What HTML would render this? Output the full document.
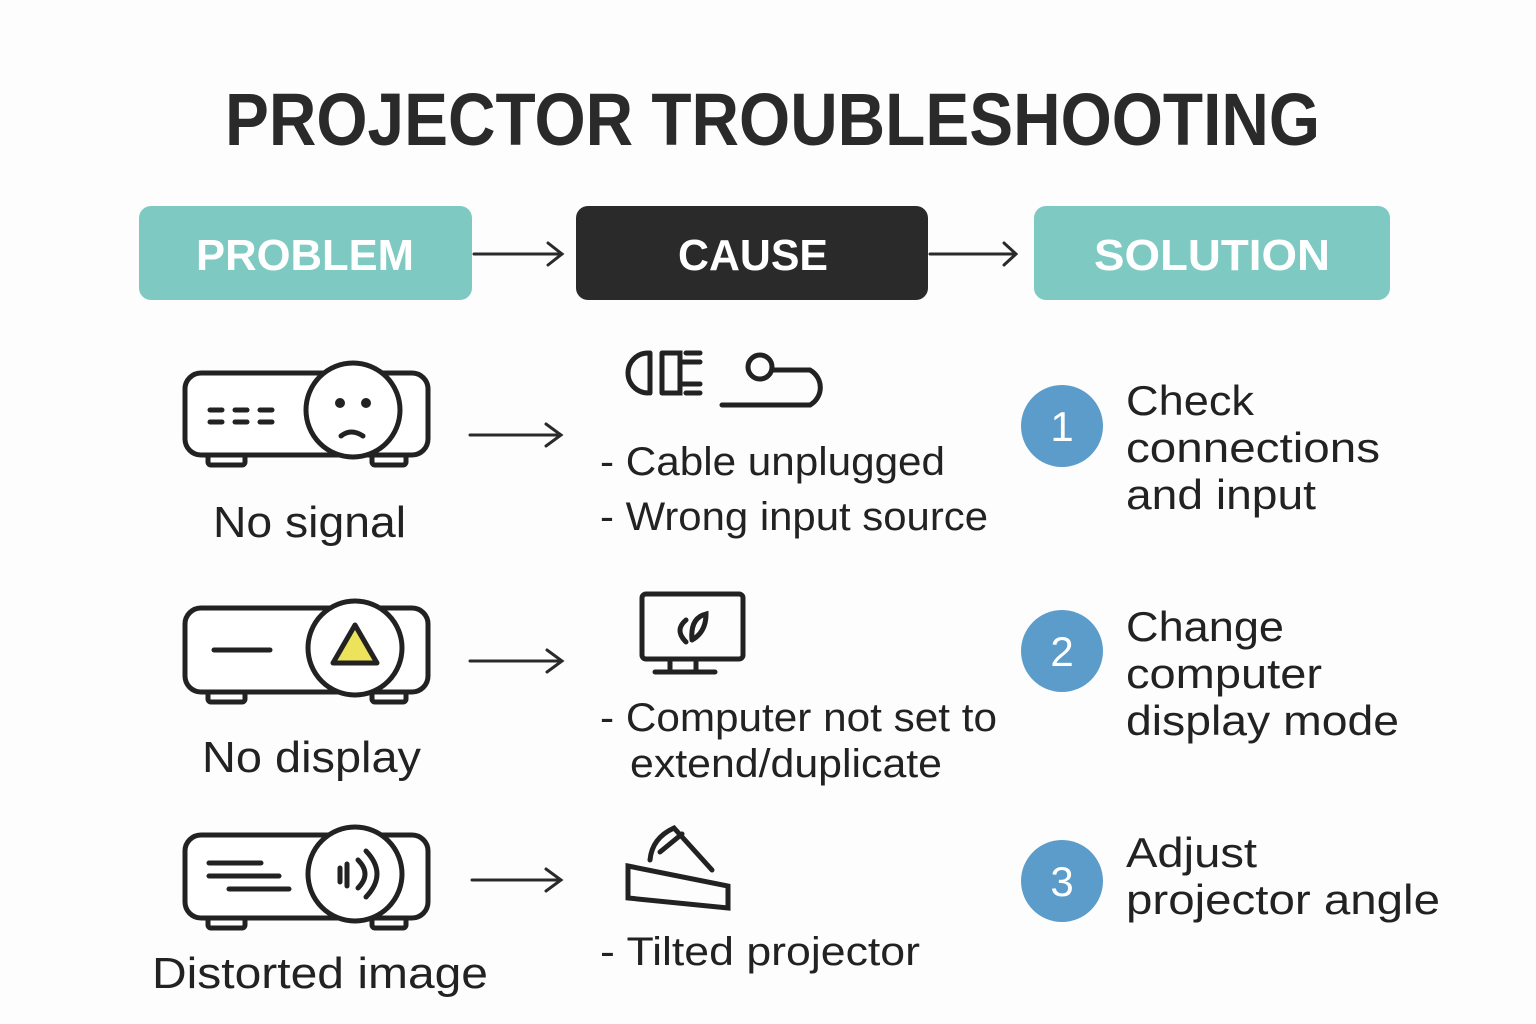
<!DOCTYPE html>
<html><head><meta charset="utf-8"><style>
html,body{margin:0;padding:0;background:#fdfdfd;}
svg{display:block;font-family:"Liberation Sans",sans-serif;}
</style></head><body>
<svg width="1536" height="1024" viewBox="0 0 1536 1024" xmlns="http://www.w3.org/2000/svg">
<rect width="1536" height="1024" fill="#fdfdfd"/>
<text x="225" y="145" font-size="74" font-weight="bold" fill="#2a2a2a" textLength="1095" lengthAdjust="spacingAndGlyphs">PROJECTOR TROUBLESHOOTING</text>

<rect x="139" y="206" width="333" height="94" rx="12" fill="#7ecac3"/>
<text x="196" y="270" font-size="44" font-weight="bold" fill="#fff" textLength="218" lengthAdjust="spacingAndGlyphs">PROBLEM</text>
<rect x="576" y="206" width="352" height="94" rx="12" fill="#2a2a2a"/>
<text x="678" y="270" font-size="44" font-weight="bold" fill="#fff" textLength="150" lengthAdjust="spacingAndGlyphs">CAUSE</text>
<rect x="1034" y="206" width="356" height="94" rx="12" fill="#7ecac3"/>
<text x="1094" y="270" font-size="44" font-weight="bold" fill="#fff" textLength="236" lengthAdjust="spacingAndGlyphs">SOLUTION</text>

<g stroke="#2a2a2a" stroke-width="3" fill="none" stroke-linecap="round">
<path d="M474 254H562M548 243L562 254L548 265"/>
<path d="M930 254H1016M1004 243L1016 254L1004 265"/>
<path d="M470 435H561M546 424L561 435L546 446"/>
<path d="M470 661H562M547 650L562 661L547 672"/>
<path d="M472 880H561M546 869L561 880L546 891"/>
</g>

<g stroke="#222" stroke-width="5" fill="#fff">
<rect x="208" y="453" width="37" height="12" rx="3"/><rect x="372" y="453" width="34" height="12" rx="3"/>
<rect x="185" y="373" width="243" height="82" rx="16"/>
<circle cx="353" cy="410" r="47"/>
<rect x="208" y="690" width="37" height="12" rx="3"/><rect x="372" y="690" width="34" height="12" rx="3"/>
<rect x="185" y="608" width="243" height="84" rx="16"/>
<circle cx="355" cy="648" r="47"/>
<rect x="208" y="916" width="37" height="12" rx="3"/><rect x="372" y="916" width="34" height="12" rx="3"/>
<rect x="185" y="835" width="243" height="83" rx="16"/>
<circle cx="355" cy="874" r="47"/>
</g>
<g stroke="#222" stroke-width="5" stroke-linecap="round" fill="none">
<path d="M210 410h12M235 410h12M260 410h12M210 422h12M235 422h12M260 422h12"/>
<path d="M341 436q10-8 22 0"/>
<path d="M214 650h56"/>
<path d="M209 863h52M209 876h70M229 889h60"/>
<path d="M340 868v14M347 864v22M358 860q14 14 0 28M366 851q22 23 0 46"/>
</g>
<circle cx="340" cy="403" r="5" fill="#222"/><circle cx="366" cy="403" r="5" fill="#222"/>
<path d="M355 625L333 663H377Z" fill="#ede35a" stroke="#222" stroke-width="5" stroke-linejoin="round"/>

<g stroke="#222" stroke-width="5" fill="none" stroke-linecap="round">
<path d="M648 353a20 20 0 0 0 0 40M650 353v40M662 353v40M662 353h18v40h-18M680 362h20M680 384h20M686 353h14M686 393h14"/>
<circle cx="760" cy="367" r="12"/>
<path d="M772 370h38a20 20 0 0 1 0 35h-88"/>
<rect x="642" y="594" width="101" height="65" rx="4"/>
<path d="M670 659v12M696 659v12M655 672h60"/>
<path d="M686 620q-12 10 0 22M692 640q14-8 14-26q-16 4-14 26"/>
<path d="M628 866l100 20v22l-100-10z"/>
<path d="M650 860q2-22 24-32l38 42M660 852l22-18"/>
</g>

<g fill="#222" font-size="42">
<text x="213" y="537" font-size="44" textLength="193" lengthAdjust="spacingAndGlyphs">No signal</text>
<text x="202" y="772" font-size="44" textLength="219" lengthAdjust="spacingAndGlyphs">No display</text>
<text x="152" y="988" font-size="44" textLength="336" lengthAdjust="spacingAndGlyphs">Distorted image</text>
<text x="600" y="475" font-size="40" textLength="345" lengthAdjust="spacingAndGlyphs">- Cable unplugged</text>
<text x="600" y="530" font-size="40" textLength="388" lengthAdjust="spacingAndGlyphs">- Wrong input source</text>
<text x="600" y="731" font-size="40" textLength="397" lengthAdjust="spacingAndGlyphs">- Computer not set to</text>
<text x="630" y="777" font-size="40" textLength="312" lengthAdjust="spacingAndGlyphs">extend/duplicate</text>
<text x="600" y="965" font-size="40" textLength="320" lengthAdjust="spacingAndGlyphs">- Tilted projector</text>
<text x="1126" y="415" textLength="128" lengthAdjust="spacingAndGlyphs">Check</text>
<text x="1126" y="462" textLength="254" lengthAdjust="spacingAndGlyphs">connections</text>
<text x="1126" y="509" textLength="190" lengthAdjust="spacingAndGlyphs">and input</text>
<text x="1126" y="641" textLength="158" lengthAdjust="spacingAndGlyphs">Change</text>
<text x="1126" y="688" textLength="196" lengthAdjust="spacingAndGlyphs">computer</text>
<text x="1126" y="735" textLength="273" lengthAdjust="spacingAndGlyphs">display mode</text>
<text x="1126" y="867" textLength="131" lengthAdjust="spacingAndGlyphs">Adjust</text>
<text x="1126" y="914" textLength="314" lengthAdjust="spacingAndGlyphs">projector angle</text>
</g>
<g fill="#5b9cca">
<circle cx="1062" cy="426" r="41"/><circle cx="1062" cy="651" r="41"/><circle cx="1062" cy="881" r="41"/>
</g>
<g fill="#fff" font-size="42" text-anchor="middle">
<text x="1062" y="441">1</text><text x="1062" y="666">2</text><text x="1062" y="896">3</text>
</g>
</svg>
</body></html>
